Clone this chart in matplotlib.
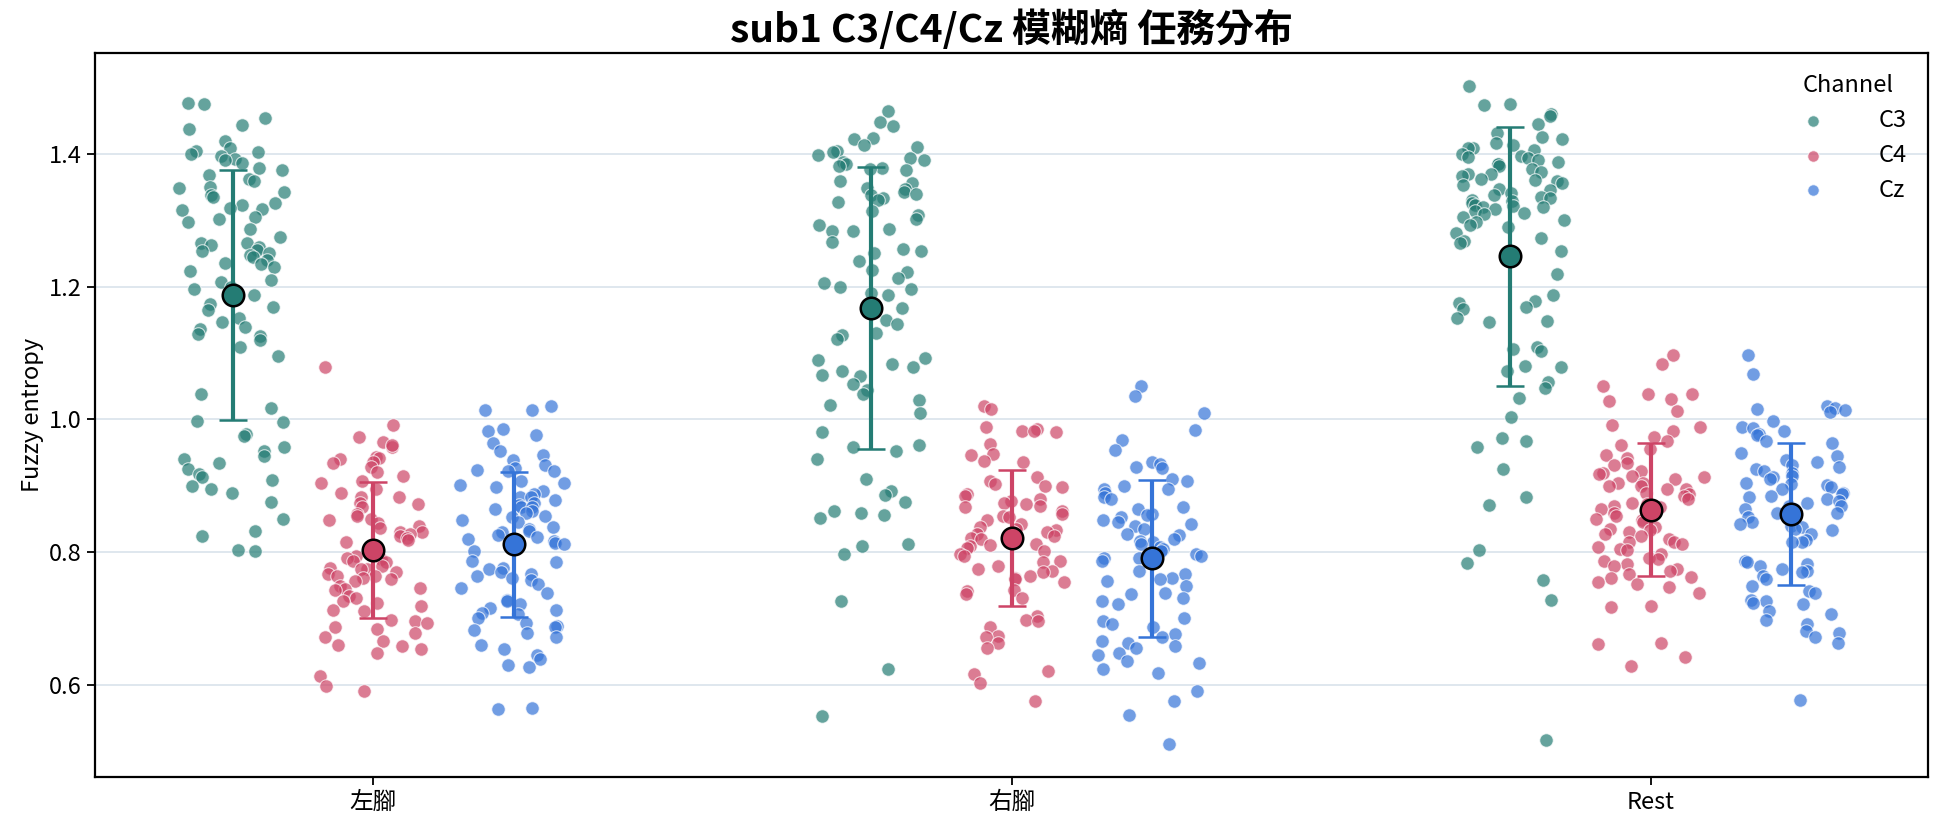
import matplotlib
matplotlib.use("Agg")
import matplotlib.pyplot as plt
import numpy as np

plt.rcParams["font.family"] = ["Noto Sans CJK TC", "DejaVu Sans"]

tasks = ["左腳", "右腳", "Rest"]
channels = ["C3", "C4", "Cz"]
colors = {"C3": "#247c74", "C4": "#cd4466", "Cz": "#3574d8"}

# fuzzy entropy per epoch
c3_left = [1.476, 1.475, 1.454, 1.443, 1.437, 1.419, 1.408, 1.404, 1.402, 1.400, 1.396, 1.392,
           1.390, 1.386, 1.379, 1.375, 1.368, 1.362, 1.359, 1.350, 1.349, 1.343, 1.338, 1.335,
           1.325, 1.323, 1.318, 1.317, 1.315, 1.305, 1.301, 1.297, 1.287, 1.275, 1.266, 1.265,
           1.262, 1.260, 1.255, 1.254, 1.250, 1.247, 1.245, 1.240, 1.236, 1.234, 1.229, 1.224,
           1.210, 1.207, 1.200, 1.197,
           1.187, 1.174, 1.169, 1.164, 1.152, 1.146, 1.139, 1.136, 1.129, 1.126, 1.119, 1.109,
           1.096, 1.038, 1.018, 0.997, 0.996, 0.978, 0.975, 0.959, 0.952, 0.945, 0.940, 0.935,
           0.925, 0.918, 0.913, 0.909, 0.900, 0.895, 0.889, 0.876, 0.850, 0.832, 0.825, 0.804, 0.802]
c4_left = [1.079, 0.992, 0.973, 0.966, 0.959, 0.962, 0.944, 0.942, 0.940, 0.936, 0.935, 0.929,
           0.921, 0.915, 0.907, 0.904, 0.895, 0.890, 0.884, 0.883, 0.875, 0.873, 0.868, 0.858,
           0.855, 0.850, 0.848, 0.844, 0.840, 0.837, 0.831, 0.830, 0.827, 0.825, 0.822, 0.818,
           0.815, 0.811, 0.795, 0.792, 0.790, 0.787, 0.785, 0.780, 0.777, 0.775, 0.775, 0.770,
           0.767, 0.765, 0.765, 0.761, 0.760, 0.757, 0.750, 0.747, 0.745,
           0.744, 0.734, 0.732, 0.727, 0.724, 0.719, 0.714, 0.712, 0.699, 0.697, 0.694, 0.687,
           0.684, 0.679, 0.672, 0.667, 0.661, 0.659, 0.654, 0.649, 0.614, 0.599, 0.591]
cz_left = [1.021, 1.015, 1.014, 0.986, 0.983, 0.976, 0.964, 0.952, 0.947, 0.939, 0.932, 0.927,
           0.924, 0.923, 0.922, 0.908, 0.905, 0.902, 0.899, 0.893, 0.888, 0.884, 0.883, 0.879,
           0.875, 0.872, 0.869, 0.868, 0.865, 0.862, 0.859, 0.855, 0.853, 0.849, 0.845, 0.838,
           0.835, 0.832, 0.830, 0.826, 0.823, 0.820, 0.817, 0.814, 0.812, 0.802, 0.787, 0.785,
           0.777, 0.775, 0.771, 0.767, 0.765, 0.761, 0.758, 0.752, 0.747, 0.739, 0.729, 0.727,
           0.722, 0.717, 0.713, 0.709, 0.707, 0.702, 0.694, 0.689, 0.687, 0.683, 0.678, 0.672,
           0.661, 0.654, 0.646, 0.639, 0.630, 0.627, 0.566, 0.565]
c3_right = [1.464, 1.448, 1.441, 1.423, 1.422, 1.413, 1.410, 1.404, 1.402, 1.398, 1.394, 1.390,
            1.387, 1.384, 1.381, 1.378, 1.377, 1.375, 1.359, 1.356, 1.349, 1.347, 1.343, 1.340,
            1.338, 1.333, 1.330, 1.327, 1.314, 1.307, 1.302, 1.292, 1.286, 1.284, 1.283, 1.267,
            1.257, 1.254, 1.251, 1.238, 1.225, 1.222, 1.213, 1.206, 1.200, 1.197, 1.190, 1.187,
            1.168, 1.149, 1.144, 1.130, 1.127, 1.121, 1.092, 1.089, 1.084, 1.079, 1.073, 1.067,
            1.065, 1.054, 1.044, 1.038, 1.029, 1.022, 1.009, 0.981, 0.962, 0.959, 0.952, 0.941,
            0.911, 0.892, 0.886, 0.876, 0.863, 0.860, 0.857, 0.851, 0.813, 0.809, 0.797, 0.727,
            0.625, 0.554]
c4_right = [1.021, 1.016, 0.988, 0.986, 0.983, 0.981, 0.982, 0.963, 0.948, 0.947, 0.938, 0.936,
            0.913, 0.908, 0.903, 0.900, 0.898, 0.888, 0.885, 0.880, 0.878, 0.875, 0.873, 0.870,
            0.868, 0.863, 0.858, 0.855, 0.854, 0.848, 0.843, 0.838, 0.835, 0.833, 0.830, 0.830,
            0.828, 0.825, 0.822, 0.820,
            0.812, 0.811, 0.810, 0.807, 0.802, 0.797, 0.795, 0.787, 0.785, 0.780, 0.775, 0.772,
            0.770, 0.765, 0.762, 0.760, 0.755, 0.744, 0.742, 0.737, 0.732, 0.704, 0.699, 0.697,
            0.687, 0.674, 0.672, 0.664, 0.656, 0.621, 0.617, 0.604, 0.577]
cz_right = [1.051, 1.036, 1.009, 0.984, 0.969, 0.954, 0.936, 0.933, 0.929, 0.927, 0.910, 0.908,
            0.900, 0.896, 0.895, 0.890, 0.883, 0.880, 0.868, 0.865, 0.858, 0.857, 0.853, 0.848,
            0.845, 0.843, 0.840, 0.835, 0.827, 0.826, 0.820, 0.817, 0.815, 0.812, 0.808, 0.805,
            0.802, 0.797, 0.795, 0.792, 0.791, 0.787, 0.772, 0.767, 0.762, 0.760, 0.757, 0.750,
            0.739, 0.737, 0.732, 0.727, 0.722, 0.702, 0.697, 0.692, 0.687, 0.677, 0.672, 0.667,
            0.664, 0.659, 0.656, 0.649, 0.646, 0.636, 0.634, 0.624, 0.619, 0.591, 0.576, 0.556, 0.511]
c3_rest = [1.502, 1.475, 1.473, 1.459, 1.456, 1.444, 1.431, 1.425, 1.422, 1.416, 1.413, 1.409,
           1.408, 1.406, 1.400, 1.397, 1.395, 1.394, 1.391, 1.388, 1.385, 1.384, 1.381, 1.377,
           1.372, 1.370, 1.369, 1.366, 1.362, 1.360, 1.359, 1.356, 1.353, 1.347, 1.345, 1.341,
           1.338, 1.335, 1.334, 1.330, 1.328, 1.325, 1.323, 1.321, 1.320, 1.319, 1.316, 1.313,
           1.310, 1.309, 1.304, 1.300, 1.297, 1.292, 1.290, 1.280, 1.273, 1.269, 1.266,
           1.253, 1.244, 1.219, 1.188, 1.178, 1.175, 1.169, 1.166, 1.153, 1.148, 1.147, 1.109,
           1.106, 1.103, 1.081, 1.079, 1.073, 1.056, 1.047, 1.033, 1.003, 0.972, 0.967, 0.959,
           0.925, 0.884, 0.871, 0.804, 0.784, 0.759, 0.729, 0.518]
c4_rest = [1.097, 1.083, 1.050, 1.039, 1.038, 1.031, 1.028, 1.013, 0.992, 0.989, 0.983, 0.973,
           0.967, 0.961, 0.956, 0.946, 0.942, 0.934, 0.931, 0.923, 0.920, 0.918, 0.915, 0.914,
           0.910, 0.905, 0.905, 0.900, 0.900, 0.895, 0.895, 0.890, 0.888, 0.885, 0.880, 0.875,
           0.873, 0.870, 0.869, 0.865, 0.863, 0.860, 0.858, 0.855, 0.850, 0.848, 0.845, 0.838,
           0.835, 0.834, 0.830, 0.827, 0.825, 0.820, 0.816, 0.815, 0.813, 0.808, 0.805, 0.804,
           0.797, 0.792, 0.790, 0.787, 0.782, 0.780, 0.775, 0.772, 0.767, 0.763, 0.762, 0.755,
           0.752, 0.748, 0.739, 0.719, 0.718, 0.664, 0.662, 0.642, 0.629]
cz_rest = [1.097, 1.068, 1.020, 1.018, 1.016, 1.014, 1.011, 0.997, 0.988, 0.987, 0.983, 0.978,
           0.976, 0.968, 0.964, 0.950, 0.945, 0.939, 0.936, 0.931, 0.928, 0.926, 0.923, 0.920,
           0.915, 0.913, 0.910, 0.905, 0.903, 0.902, 0.899, 0.895, 0.890, 0.888, 0.885, 0.883,
           0.880, 0.878, 0.875, 0.870, 0.870, 0.865, 0.865, 0.860, 0.859, 0.853,
           0.845, 0.843, 0.840, 0.838, 0.835, 0.833, 0.827, 0.818, 0.816, 0.815, 0.787, 0.785,
           0.782, 0.780, 0.775, 0.772, 0.770, 0.765, 0.760, 0.750, 0.742, 0.739, 0.729, 0.727,
           0.724, 0.722, 0.712, 0.708, 0.699, 0.692, 0.682, 0.679, 0.672, 0.664, 0.578]

data = {
    ("左腳", "C3"): c3_left, ("左腳", "C4"): c4_left, ("左腳", "Cz"): cz_left,
    ("右腳", "C3"): c3_right, ("右腳", "C4"): c4_right, ("右腳", "Cz"): cz_right,
    ("Rest", "C3"): c3_rest, ("Rest", "C4"): c4_rest, ("Rest", "Cz"): cz_rest,
}

fig = plt.figure(figsize=(19.44, 8.27), dpi=100)
ax = fig.add_axes([0.049, 0.060, 0.943, 0.876])
rng = np.random.default_rng(3)
offsets = {"C3": -0.22, "C4": 0.0, "Cz": 0.22}

for i, t in enumerate(tasks):
    for ch in channels:
        y = np.array(data[(t, ch)])
        x = i + offsets[ch] + rng.uniform(-0.085, 0.085, len(y))
        ax.scatter(x, y, s=95, color=colors[ch], alpha=0.7, edgecolor="white", lw=0.8,
                   zorder=2, label=ch if i == 0 else None)
        ax.errorbar(i + offsets[ch], y.mean(), yerr=y.std(ddof=1), fmt="o", ms=15.5,
                    color=colors[ch], mfc=colors[ch], mec="black", mew=1.8,
                    elinewidth=3, capsize=10, capthick=2.5, zorder=4)

ax.set_xticks(range(len(tasks)))
ax.set_xticklabels(tasks)
ax.set_ylabel("Fuzzy entropy", fontsize=17)
ax.set_title("sub1 C3/C4/Cz 模糊熵 任務分布", fontsize=28, fontweight="bold", pad=8)
ax.tick_params(labelsize=17, width=1.3, length=6)
ax.grid(axis="y", color="#d6e0ea", lw=1.1)
ax.set_axisbelow(True)
for s in ax.spines.values():
    s.set_linewidth(1.6)
leg = ax.legend(title="Channel", frameon=False, loc="upper right", fontsize=17,
                title_fontsize=17, markerscale=0.85, handletextpad=1.8)

fig.savefig("out.png", dpi=100)
